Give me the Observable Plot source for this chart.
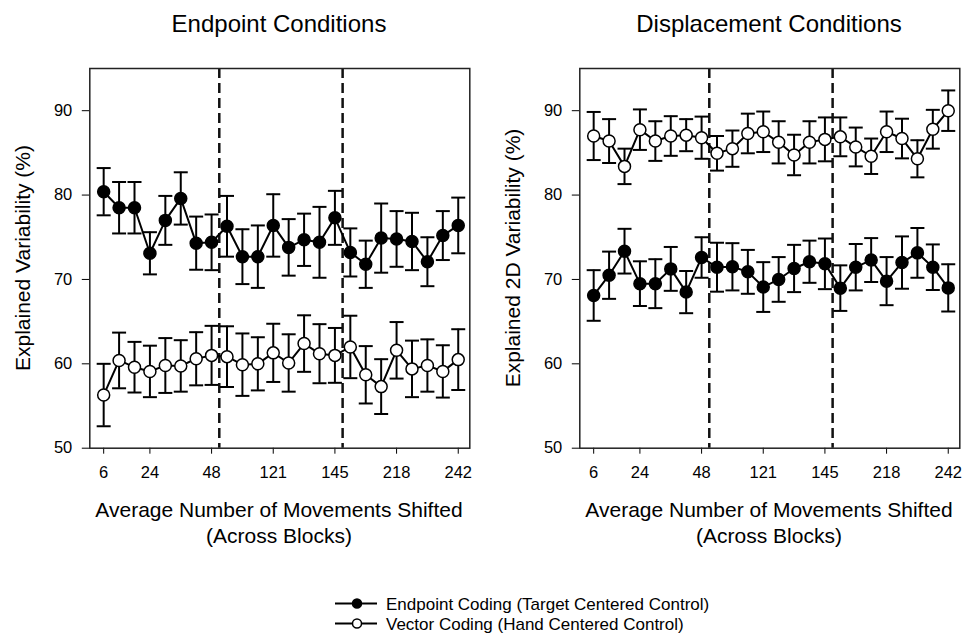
<!DOCTYPE html>
<html><head><meta charset="utf-8">
<script src="https://cdn.jsdelivr.net/npm/d3@7"></script>
<script src="https://cdn.jsdelivr.net/npm/@observablehq/plot@0.6"></script>
<style>
body{margin:0;background:#fff;}
#root{position:relative;width:971px;height:634px;overflow:hidden;font-family:"Liberation Sans",Arial,sans-serif;color:#000;}
#root svg{position:absolute;top:0;}
</style></head><body><div id="root"></div>
<script>
// ---- data ----
const blocks = [1,2,3,4,5,6,7,8,9,10,11,12,13,14,15,16,17,18,19,20,21,22,23,24];
const tickBlocks = [1,4,8,12,16,20,24];
const tickLabels = ["6","24","48","121","145","218","242"];
const yTicks = [50,60,70,80,90];
const phaseBounds = [8.5,16.5];

const panelTitles = ["Endpoint Conditions","Displacement Conditions"];
const yLabels = ["Explained Variability (%)","Explained 2D Variability (%)"];
const xLabelLines = ["Average Number of Movements Shifted","(Across Blocks)"];
const seriesNames = ["Endpoint Coding (Target Centered Control)","Vector Coding (Hand Centered Control)"];

// Endpoint Conditions panel
const epEndpointMean = [80.4,78.5,78.5,73.1,77.0,79.6,74.3,74.4,76.3,72.7,72.7,76.4,73.8,74.7,74.4,77.3,73.2,71.8,74.9,74.8,74.5,72.1,75.2,76.4];
const epEndpointErr  = [2.8,3.05,3.05,2.5,2.9,3.1,3.15,3.3,3.6,3.25,3.7,3.7,3.35,3.1,4.2,3.2,2.85,2.8,4.1,3.3,3.4,2.9,2.9,3.3];
const epVectorMean   = [56.3,60.4,59.6,59.1,59.8,59.75,60.6,61.0,60.85,59.9,60.0,61.3,60.1,62.4,61.2,61.0,62.0,58.7,57.3,61.6,59.4,59.8,59.1,60.5];
const epVectorErr    = [3.7,3.3,3.0,3.05,3.25,3.05,3.15,3.5,3.6,3.7,3.15,3.45,3.4,3.35,3.5,3.25,3.7,3.4,3.25,3.35,3.35,3.1,3.1,3.6];

// Displacement Conditions panel
const dpEndpointMean = [68.1,70.5,73.35,69.5,69.5,71.25,68.5,72.6,71.45,71.5,70.9,69.1,70.0,71.3,72.1,71.85,68.97,71.45,72.3,69.8,72.0,73.15,71.45,69.0];
const dpEndpointErr  = [3.0,2.8,2.65,2.65,2.9,2.6,2.5,2.4,2.9,2.8,2.6,2.95,2.65,2.8,2.5,3.0,2.7,2.75,2.6,2.85,3.1,2.95,2.7,2.8];
const dpVectorMean   = [87.0,86.4,83.4,87.75,86.4,87.0,87.1,86.8,84.95,85.5,87.3,87.5,86.25,84.75,86.25,86.6,86.9,85.7,84.6,87.5,86.7,84.3,87.8,90.0];
const dpVectorErr    = [2.85,2.6,2.1,2.4,2.35,2.35,1.9,2.5,2.05,2.15,2.35,2.4,2.5,2.4,2.5,2.6,2.3,2.3,2.1,2.4,2.35,2.2,2.3,2.4];

// ---- build ----
const FONT = '"Liberation Sans", Arial, sans-serif';
const rows = (mean, err) => blocks.map((b, i) => ({block: b, mean: mean[i], lo: mean[i] - err[i], hi: mean[i] + err[i]}));
const capSymbol = {draw(ctx, size) { const w = Math.sqrt(size / Math.PI); ctx.moveTo(-w, 0); ctx.lineTo(w, 0); }};

function seriesMarks(data) {
  return [
    Plot.ruleX(data, {x: "block", y1: "lo", y2: "hi", stroke: "#000", strokeWidth: 2}),
    Plot.dot(data, {x: "block", y: "hi", symbol: capSymbol, r: 7, stroke: "#000", strokeWidth: 2}),
    Plot.dot(data, {x: "block", y: "lo", symbol: capSymbol, r: 7, stroke: "#000", strokeWidth: 2}),
    Plot.line(data, {x: "block", y: "mean", stroke: "#000", strokeWidth: 2})
  ];
}
function dotMarks(data, fill) {
  return Plot.dot(data, {x: "block", y: "mean", r: 6, fill, stroke: "#000", strokeWidth: 1.5});
}

function panel(endpoint, vector, width, marginRight) {
  return Plot.plot({
    width, height: 530,
    marginLeft: 89.3, marginRight, marginTop: 68, marginBottom: 82.3,
    style: {fontSize: "16.5px", fontFamily: FONT, color: "#000", background: "transparent", overflow: "visible"},
    x: {domain: [0.1, 24.75], ticks: tickBlocks, tickFormat: d => tickLabels[tickBlocks.indexOf(d)], tickSize: 6, tickPadding: 12, label: null},
    y: {domain: [50, 95], ticks: yTicks, tickSize: 7.5, tickPadding: 10, label: null},
    marks: [
      Plot.ruleX(phaseBounds, {stroke: "#111", strokeWidth: 2.5, strokeDasharray: "10,5"}),
      ...seriesMarks(vector),
      ...seriesMarks(endpoint),
      dotMarks(vector, "#fff"),
      dotMarks(endpoint, "#000"),
      Plot.frame({stroke: "#222", strokeWidth: 1.5})
    ]
  });
}

const root = document.getElementById("root");
const p1 = panel(rows(epEndpointMean, epEndpointErr), rows(epVectorMean, epVectorErr), 485, 15.7);
p1.style.left = "0px";
root.appendChild(p1);
const p2 = panel(rows(dpEndpointMean, dpEndpointErr), rows(dpVectorMean, dpVectorErr), 481, 11.7);
p2.style.left = "490px";
root.appendChild(p2);

// ---- text overlay & legend ----
const ov = d3.select(root).append("svg").attr("width", 971).attr("height", 634)
  .style("left", "0px").style("font-family", FONT).attr("fill", "#000");
const centers = [279, 769];
const yLabelX = [22, 512];
centers.forEach((cx, i) => {
  ov.append("text").attr("x", cx).attr("y", 32).attr("text-anchor", "middle").attr("font-size", 24).text(panelTitles[i]);
  ov.append("text").attr("x", cx).attr("y", 517).attr("text-anchor", "middle").attr("font-size", 21).text(xLabelLines[0]);
  ov.append("text").attr("x", cx).attr("y", 543).attr("text-anchor", "middle").attr("font-size", 21).text(xLabelLines[1]);
  ov.append("text").attr("transform", `translate(${yLabelX[i]},258) rotate(-90)`)
    .attr("text-anchor", "middle").attr("dominant-baseline", "central").attr("font-size", 21).text(yLabels[i]);
});
const legendFills = ["#000", "#fff"];
seriesNames.forEach((name, i) => {
  const cy = 603.5 + i * 20;
  ov.append("line").attr("x1", 335).attr("x2", 377).attr("y1", cy).attr("y2", cy).attr("stroke", "#000").attr("stroke-width", 2);
  ov.append("circle").attr("cx", 357).attr("cy", cy).attr("r", 4.5).attr("fill", legendFills[i]).attr("stroke", "#000").attr("stroke-width", 1.5);
  ov.append("text").attr("x", 386).attr("y", cy + 6).attr("font-size", 17).text(name);
});
</script></body></html>
